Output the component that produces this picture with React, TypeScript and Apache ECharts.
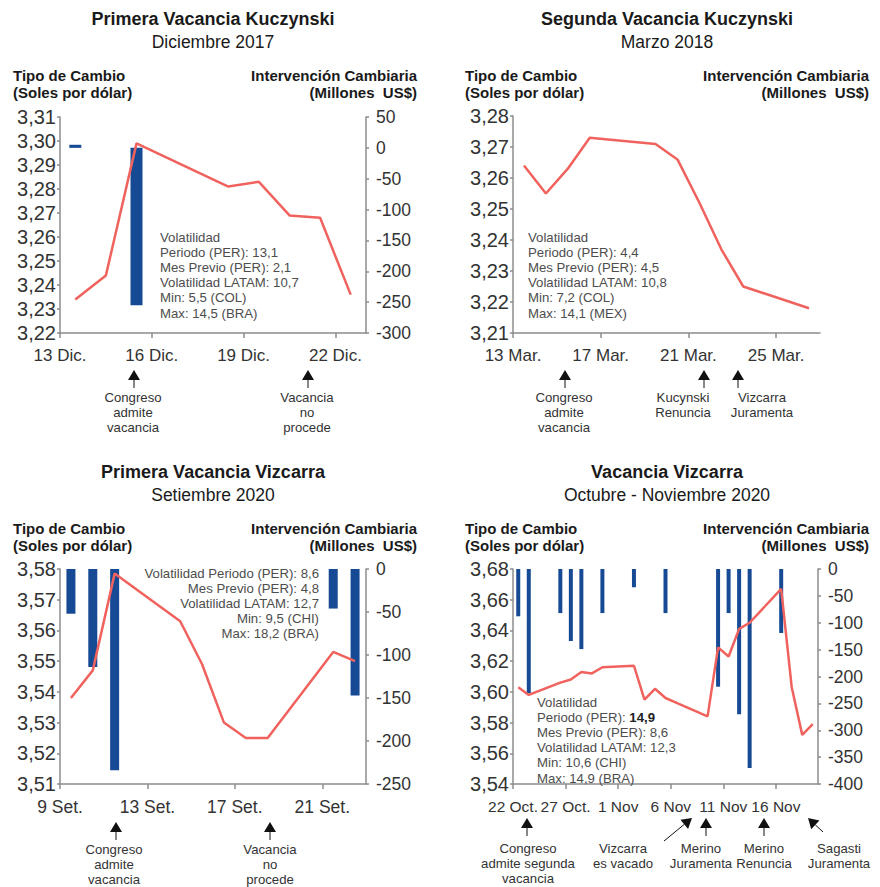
import React, { useEffect, useRef } from 'react';
import * as echarts from 'echarts';

// ---------- Panel 1: Primera Vacancia Kuczynski (Diciembre 2017)
const p1Start = '2017-12-13';
const p1Span = 10;
const p1Step = 3;
const p1Dates = ['2017-12-13', '2017-12-14', '2017-12-15', '2017-12-18', '2017-12-19', '2017-12-20', '2017-12-21', '2017-12-22'];
const p1Rate = [3.234, 3.244, 3.299, 3.281, 3.283, 3.269, 3.268, 3.236];
const p1BarDates = ['2017-12-13', '2017-12-15'];
const p1Interv = [5, -255];
const p1TickLabels = ['13 Dic.', '16 Dic.', '19 Dic.', '22 Dic.'];
const p1Vol = ['Volatilidad', 'Periodo (PER): 13,1', 'Mes Previo (PER): 2,1', 'Volatilidad LATAM: 10,7', 'Min: 5,5 (COL)', 'Max: 14,5 (BRA)'];

// ---------- Panel 2: Segunda Vacancia Kuczynski (Marzo 2018)
const p2Start = '2018-03-13';
const p2Span = 14;
const p2Step = 4;
const p2Dates = ['2018-03-13', '2018-03-14', '2018-03-15', '2018-03-16', '2018-03-19', '2018-03-20', '2018-03-21', '2018-03-22', '2018-03-23', '2018-03-26'];
const p2Rate = [3.264, 3.255, 3.263, 3.273, 3.271, 3.266, 3.252, 3.237, 3.225, 3.218];
const p2TickLabels = ['13 Mar.', '17 Mar.', '21 Mar.', '25 Mar.'];
const p2Vol = ['Volatilidad', 'Periodo (PER): 4,4', 'Mes Previo (PER): 4,5', 'Volatilidad LATAM: 10,8', 'Min: 7,2 (COL)', 'Max: 14,1 (MEX)'];

// ---------- Panel 3: Primera Vacancia Vizcarra (Setiembre 2020)
const p3Start = '2020-09-09';
const p3Span = 14;
const p3Step = 4;
const p3Dates = ['2020-09-09', '2020-09-10', '2020-09-11', '2020-09-14', '2020-09-15', '2020-09-16', '2020-09-17', '2020-09-18', '2020-09-21', '2020-09-22'];
const p3Rate = [3.538, 3.547, 3.5785, 3.563, 3.549, 3.53, 3.525, 3.525, 3.553, 3.55];
const p3BarDates = ['2020-09-09', '2020-09-10', '2020-09-11', '2020-09-21', '2020-09-22'];
const p3Interv = [-52, -114, -234, -46, -147];
const p3TickLabels = ['9 Set.', '13 Set.', '17 Set.', '21 Set.'];
const p3Vol = ['Volatilidad Periodo (PER): 8,6', 'Mes Previo (PER): 4,8', 'Volatilidad LATAM: 12,7', 'Min: 9,5 (CHI)', 'Max: 18,2 (BRA)'];

// ---------- Panel 4: Vacancia Vizcarra (Octubre - Noviembre 2020)
const p4Start = '2020-10-22';
const p4Span = 29;
const p4Step = 5;
const p4Dates = ['2020-10-22', '2020-10-23', '2020-10-26', '2020-10-27', '2020-10-28', '2020-10-29', '2020-10-30', '2020-11-02', '2020-11-03', '2020-11-04', '2020-11-05', '2020-11-06', '2020-11-09', '2020-11-10', '2020-11-11', '2020-11-12', '2020-11-13', '2020-11-16', '2020-11-17', '2020-11-18', '2020-11-19'];
const p4Rate = [3.603, 3.598, 3.606, 3.608, 3.613, 3.612, 3.616, 3.617, 3.595, 3.602, 3.596, 3.593, 3.584, 3.629, 3.623, 3.641, 3.645, 3.667, 3.603, 3.572, 3.579];
const p4BarDates = ['2020-10-22', '2020-10-23', '2020-10-26', '2020-10-27', '2020-10-28', '2020-10-30', '2020-11-02', '2020-11-05', '2020-11-10', '2020-11-11', '2020-11-12', '2020-11-13', '2020-11-16'];
const p4Interv = [-88, -231, -82, -134, -149, -82, -34, -82, -219, -82, -270, -370, -119];
const p4TickLabels = ['22 Oct.', '27 Oct.', '1 Nov', '6 Nov', '11 Nov', '16 Nov'];
const p4Vol = ['Volatilidad', 'Periodo (PER): {b|14,9}', 'Mes Previo (PER): 8,6', 'Volatilidad LATAM: 12,3', 'Min: 10,6 (CHI)', 'Max: 14,9 (BRA)'];

const FONT = '"Liberation Sans", Arial, sans-serif';
const AXC = '#8c8c8c';
const LINEC = '#F0625D';
const BARC = '#174A94';
const TXT = '#333333';
const SMALL = 13.2;
const LH = 15.2;

const dayOff = (start: string, d: string) => (Date.parse(d) - Date.parse(start)) / 86400000;

function xAx(grid: number, span: number, step: number, labels: string[], fs: number) {
  const vals = labels.map((_, i) => i * step);
  return {
    type: 'value', gridIndex: grid, min: 0, max: span, interval: step,
    axisLine: { show: true, onZero: false, lineStyle: { color: AXC, width: 1.5 } },
    axisTick: { show: true, length: 5, customValues: vals, lineStyle: { color: AXC, width: 1.5 } },
    axisLabel: {
      customValues: vals,
      formatter: (v: number) => (v % step === 0 && labels[v / step] !== undefined ? labels[v / step] : ''),
      color: TXT, fontSize: fs, fontFamily: FONT, margin: 14,
    },
    splitLine: { show: false },
  };
}

function yLeft(grid: number, min: number, max: number, step: number) {
  return {
    type: 'value', gridIndex: grid, position: 'left', min, max, interval: step,
    axisLine: { show: true, onZero: false, lineStyle: { color: AXC, width: 1.5 } },
    axisTick: { show: true, length: 3, lineStyle: { color: AXC, width: 1.5 } },
    axisLabel: { formatter: (v: number) => v.toFixed(2).replace('.', ','), color: TXT, fontSize: 20, fontFamily: FONT, margin: 4 },
    splitLine: { show: false },
  };
}

function yRight(grid: number, min: number, max: number) {
  return {
    type: 'value', gridIndex: grid, position: 'right', min, max, interval: 50,
    axisLine: { show: true, onZero: false, lineStyle: { color: AXC, width: 1.5 } },
    axisTick: { show: true, length: 3, lineStyle: { color: AXC, width: 1.5 } },
    axisLabel: { color: TXT, fontSize: 17.5, fontFamily: FONT, margin: 10 },
    splitLine: { show: false },
  };
}

function lineSeries(xi: number, yi: number, start: string, dates: string[], vals: number[]) {
  return {
    type: 'line', xAxisIndex: xi, yAxisIndex: yi, symbol: 'none', z: 5,
    lineStyle: { color: LINEC, width: 2.5 },
    data: dates.map((d, i) => [dayOff(start, d) + 0.5, vals[i]]),
  };
}

function barSeries(xi: number, yi: number, start: string, dates: string[], vals: number[], w: number) {
  return {
    type: 'bar', xAxisIndex: xi, yAxisIndex: yi, barWidth: w, z: 2,
    itemStyle: { color: BARC },
    data: dates.map((d, i) => [dayOff(start, d) + 0.5, vals[i]]),
  };
}

function text(x: number, y: number, t: string, size: number, opts: any = {}) {
  const align = opts.align || 'left';
  return {
    type: 'text', x, y, z: 10,
    style: {
      text: t, fill: opts.fill || '#1a1a1a', fontSize: size, fontFamily: FONT,
      fontWeight: opts.bold ? 'bold' : 'normal',
      textAlign: align, align, textVerticalAlign: 'middle', verticalAlign: 'middle',
      rich: opts.rich,
    },
  };
}

function upArrow(x: number, yTop: number) {
  return [
    { type: 'polygon', z: 10, shape: { points: [[x, yTop], [x - 6, yTop + 10], [x + 6, yTop + 10]] }, style: { fill: '#111' } },
    { type: 'line', z: 10, shape: { x1: x, y1: yTop + 9, x2: x, y2: yTop + 18 }, style: { stroke: '#111', lineWidth: 1 } },
  ];
}

function diagArrow(x1: number, y1: number, x2: number, y2: number) {
  const dx = x2 - x1, dy = y2 - y1, L = Math.hypot(dx, dy);
  const ux = dx / L, uy = dy / L, nx = -uy, ny = ux;
  const h = 10, w = 6;
  const bx = x2 - ux * h, by = y2 - uy * h;
  return [
    { type: 'line', z: 10, shape: { x1, y1, x2: bx, y2: by }, style: { stroke: '#111', lineWidth: 1 } },
    { type: 'polygon', z: 10, shape: { points: [[x2, y2], [bx + nx * w, by + ny * w], [bx - nx * w, by - ny * w]] }, style: { fill: '#111' } },
  ];
}

function multi(x: number, y0: number, lh: number, lines: string[], size: number, opts: any = {}) {
  return lines.map((l, i) => text(x, y0 + i * lh, l, size, opts));
}

function headers(cx: number, y: number, title: string, sub: string, left: number, right: number) {
  return [
    text(cx, y, title, 18, { bold: true, align: 'center' }),
    text(cx, y + 23, sub, 17.5, { align: 'center' }),
    text(left, y + 56, 'Tipo de Cambio', 15, { bold: true }),
    text(left, y + 73, '(Soles por dólar)', 15, { bold: true }),
    text(right, y + 56, 'Intervención Cambiaria', 15, { bold: true, align: 'right' }),
    text(right, y + 73, '(Millones  US$)', 15, { bold: true, align: 'right' }),
  ];
}

export default function App() {
  const ref = useRef<HTMLDivElement>(null);
  useEffect(() => {
    if (!ref.current) return;
    const chart = echarts.init(ref.current, null, { renderer: 'svg' });
    const volOpts = { fill: '#4d4d4d' };
    const annOpts = { fill: '#333', align: 'center' };
    const graphics: any[] = [
      ...headers(213, 19, 'Primera Vacancia Kuczynski', 'Diciembre 2017', 13, 417),
      ...headers(667, 19, 'Segunda Vacancia Kuczynski', 'Marzo 2018', 465, 869),
      ...headers(213, 472, 'Primera Vacancia Vizcarra', 'Setiembre 2020', 13, 417),
      ...headers(667, 472, 'Vacancia Vizcarra', 'Octubre - Noviembre 2020', 465, 869),
      ...multi(160, 237, LH, p1Vol, SMALL, volOpts),
      ...multi(528, 237, LH, p2Vol, SMALL, volOpts),
      ...multi(319, 573, LH, p3Vol, SMALL, { ...volOpts, align: 'right' }),
      ...multi(537, 702, LH, p4Vol, SMALL, { ...volOpts, rich: { b: { fontWeight: 'bold', fontSize: SMALL, fontFamily: FONT, fill: '#222' } } }),
      // Panel 1 annotations
      ...upArrow(134, 370),
      ...multi(133, 397, LH, ['Congreso', 'admite', 'vacancia'], SMALL, annOpts),
      ...upArrow(308, 370),
      ...multi(307, 397, LH, ['Vacancia', 'no', 'procede'], SMALL, annOpts),
      // Panel 2 annotations
      ...upArrow(565, 370),
      ...multi(564, 397, LH, ['Congreso', 'admite', 'vacancia'], SMALL, annOpts),
      ...upArrow(704, 370),
      ...multi(683, 397, LH, ['Kucynski', 'Renuncia'], SMALL, annOpts),
      ...upArrow(738, 370),
      ...multi(762, 397, LH, ['Vizcarra', 'Juramenta'], SMALL, annOpts),
      // Panel 3 annotations
      ...upArrow(116, 822),
      ...multi(114, 849, LH, ['Congreso', 'admite', 'vacancia'], SMALL, annOpts),
      ...upArrow(270, 822),
      ...multi(270, 849, LH, ['Vacancia', 'no', 'procede'], SMALL, annOpts),
      // Panel 4 annotations
      ...upArrow(527, 818),
      ...multi(528, 848, LH, ['Congreso', 'admite segunda', 'vacancia'], SMALL, annOpts),
      ...diagArrow(664, 841, 692, 818),
      ...multi(623, 848, LH, ['Vizcarra', 'es vacado'], SMALL, annOpts),
      ...upArrow(706, 818),
      ...multi(701, 848, LH, ['Merino', 'Juramenta'], SMALL, annOpts),
      ...upArrow(764, 818),
      ...multi(764, 848, LH, ['Merino', 'Renuncia'], SMALL, annOpts),
      ...diagArrow(823, 832, 808, 818),
      ...multi(839, 848, LH, ['Sagasti', 'Juramenta'], SMALL, annOpts),
    ];

    const option: any = {
      animation: false,
      grid: [
        { left: 60, top: 117, width: 306, height: 216 },
        { left: 513, top: 116, width: 307, height: 217 },
        { left: 60, top: 569, width: 306, height: 215 },
        { left: 513, top: 569, width: 305, height: 215 },
      ],
      xAxis: [
        xAx(0, p1Span, p1Step, p1TickLabels, 17),
        xAx(1, p2Span, p2Step, p2TickLabels, 17),
        xAx(2, p3Span, p3Step, p3TickLabels, 17.5),
        xAx(3, p4Span, p4Step, p4TickLabels, 15.5),
      ],
      yAxis: [
        yLeft(0, 3.22, 3.31, 0.01),   // 0
        yRight(0, -300, 50),          // 1
        yLeft(1, 3.21, 3.28, 0.01),   // 2
        yLeft(2, 3.51, 3.58, 0.01),   // 3
        yRight(2, -250, 0),           // 4
        yLeft(3, 3.54, 3.68, 0.02),   // 5
        yRight(3, -400, 0),           // 6
      ],
      series: [
        barSeries(0, 1, p1Start, p1BarDates, p1Interv, 12),
        lineSeries(0, 0, p1Start, p1Dates, p1Rate),
        lineSeries(1, 2, p2Start, p2Dates, p2Rate),
        barSeries(2, 4, p3Start, p3BarDates, p3Interv, 9),
        lineSeries(2, 3, p3Start, p3Dates, p3Rate),
        barSeries(3, 6, p4Start, p4BarDates, p4Interv, 4),
        lineSeries(3, 5, p4Start, p4Dates, p4Rate),
      ],
      graphic: { elements: graphics },
    };
    chart.setOption(option);
    return () => chart.dispose();
  }, []);
  return <div ref={ref} style={{ position: 'fixed', left: 0, top: 0, width: 880, height: 887, background: '#fff' }} />;
}
